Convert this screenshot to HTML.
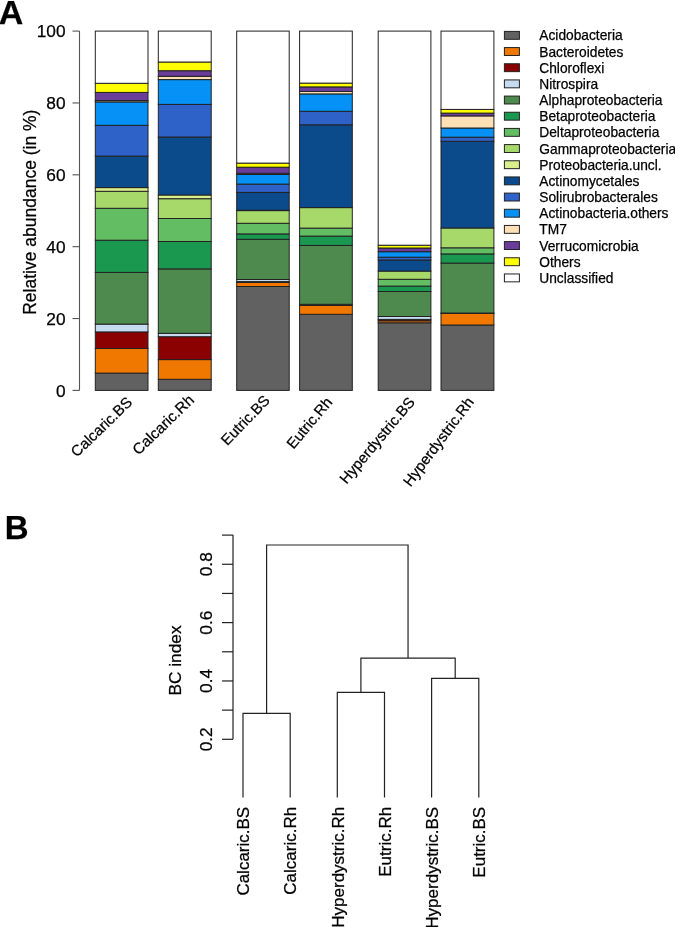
<!DOCTYPE html><html><head><meta charset="utf-8"><style>html,body{margin:0;padding:0;background:#fff;width:675px;height:927px;overflow:hidden}svg{display:block;will-change:transform}text{font-family:"Liberation Sans",sans-serif;stroke:#000;stroke-width:0.25px}</style></head><body>
<svg width="675" height="927" viewBox="0 0 675 927">
<text x="-1.2" y="23.8" font-size="34" font-weight="bold">A</text>
<text x="4.8" y="538.6" font-size="33" font-weight="bold">B</text>
<rect x="95.30" y="373.10" width="52.70" height="17.30" fill="#616161" stroke="#222" stroke-width="1.0"/>
<rect x="95.30" y="348.50" width="52.70" height="24.60" fill="#f07800" stroke="#222" stroke-width="1.0"/>
<rect x="95.30" y="331.90" width="52.70" height="16.60" fill="#8b0000" stroke="#222" stroke-width="1.0"/>
<rect x="95.30" y="324.10" width="52.70" height="7.80" fill="#c6dbef" stroke="#222" stroke-width="1.0"/>
<rect x="95.30" y="272.40" width="52.70" height="51.70" fill="#4e8a4e" stroke="#222" stroke-width="1.0"/>
<rect x="95.30" y="240.20" width="52.70" height="32.20" fill="#1a9850" stroke="#222" stroke-width="1.0"/>
<rect x="95.30" y="208.30" width="52.70" height="31.90" fill="#63be63" stroke="#222" stroke-width="1.0"/>
<rect x="95.30" y="191.30" width="52.70" height="17.00" fill="#a6d96a" stroke="#222" stroke-width="1.0"/>
<rect x="95.30" y="187.60" width="52.70" height="3.70" fill="#d9ef8b" stroke="#222" stroke-width="1.0"/>
<rect x="95.30" y="156.10" width="52.70" height="31.50" fill="#0b4a8b" stroke="#222" stroke-width="1.0"/>
<rect x="95.30" y="125.30" width="52.70" height="30.80" fill="#2f62c9" stroke="#222" stroke-width="1.0"/>
<rect x="95.30" y="101.90" width="52.70" height="23.40" fill="#0591f6" stroke="#222" stroke-width="1.0"/>
<rect x="95.30" y="100.60" width="52.70" height="1.30" fill="#fde0b5" stroke="#222" stroke-width="1.0"/>
<rect x="95.30" y="92.40" width="52.70" height="8.20" fill="#6a3d9a" stroke="#222" stroke-width="1.0"/>
<rect x="95.30" y="83.30" width="52.70" height="9.10" fill="#ffff00" stroke="#222" stroke-width="1.0"/>
<rect x="95.30" y="31.10" width="52.70" height="52.20" fill="#ffffff" stroke="#222" stroke-width="1.0"/>
<rect x="158.30" y="379.30" width="52.90" height="11.10" fill="#616161" stroke="#222" stroke-width="1.0"/>
<rect x="158.30" y="359.60" width="52.90" height="19.70" fill="#f07800" stroke="#222" stroke-width="1.0"/>
<rect x="158.30" y="336.70" width="52.90" height="22.90" fill="#8b0000" stroke="#222" stroke-width="1.0"/>
<rect x="158.30" y="333.30" width="52.90" height="3.40" fill="#c6dbef" stroke="#222" stroke-width="1.0"/>
<rect x="158.30" y="268.90" width="52.90" height="64.40" fill="#4e8a4e" stroke="#222" stroke-width="1.0"/>
<rect x="158.30" y="241.50" width="52.90" height="27.40" fill="#1a9850" stroke="#222" stroke-width="1.0"/>
<rect x="158.30" y="218.50" width="52.90" height="23.00" fill="#63be63" stroke="#222" stroke-width="1.0"/>
<rect x="158.30" y="198.70" width="52.90" height="19.80" fill="#a6d96a" stroke="#222" stroke-width="1.0"/>
<rect x="158.30" y="195.00" width="52.90" height="3.70" fill="#d9ef8b" stroke="#222" stroke-width="1.0"/>
<rect x="158.30" y="137.00" width="52.90" height="58.00" fill="#0b4a8b" stroke="#222" stroke-width="1.0"/>
<rect x="158.30" y="104.40" width="52.90" height="32.60" fill="#2f62c9" stroke="#222" stroke-width="1.0"/>
<rect x="158.30" y="79.60" width="52.90" height="24.80" fill="#0591f6" stroke="#222" stroke-width="1.0"/>
<rect x="158.30" y="76.30" width="52.90" height="3.30" fill="#fde0b5" stroke="#222" stroke-width="1.0"/>
<rect x="158.30" y="70.70" width="52.90" height="5.60" fill="#6a3d9a" stroke="#222" stroke-width="1.0"/>
<rect x="158.30" y="62.00" width="52.90" height="8.70" fill="#ffff00" stroke="#222" stroke-width="1.0"/>
<rect x="158.30" y="31.10" width="52.90" height="30.90" fill="#ffffff" stroke="#222" stroke-width="1.0"/>
<rect x="236.70" y="286.50" width="52.50" height="103.90" fill="#616161" stroke="#222" stroke-width="1.0"/>
<rect x="236.70" y="282.40" width="52.50" height="4.10" fill="#f07800" stroke="#222" stroke-width="1.0"/>
<rect x="236.70" y="281.60" width="52.50" height="0.80" fill="#8b0000" stroke="#222" stroke-width="1.0"/>
<rect x="236.70" y="279.50" width="52.50" height="2.10" fill="#c6dbef" stroke="#222" stroke-width="1.0"/>
<rect x="236.70" y="239.30" width="52.50" height="40.20" fill="#4e8a4e" stroke="#222" stroke-width="1.0"/>
<rect x="236.70" y="233.90" width="52.50" height="5.40" fill="#1a9850" stroke="#222" stroke-width="1.0"/>
<rect x="236.70" y="223.30" width="52.50" height="10.60" fill="#63be63" stroke="#222" stroke-width="1.0"/>
<rect x="236.70" y="210.60" width="52.50" height="12.70" fill="#a6d96a" stroke="#222" stroke-width="1.0"/>
<rect x="236.70" y="210.20" width="52.50" height="0.40" fill="#d9ef8b" stroke="#222" stroke-width="1.0"/>
<rect x="236.70" y="192.40" width="52.50" height="17.80" fill="#0b4a8b" stroke="#222" stroke-width="1.0"/>
<rect x="236.70" y="184.10" width="52.50" height="8.30" fill="#2f62c9" stroke="#222" stroke-width="1.0"/>
<rect x="236.70" y="174.50" width="52.50" height="9.60" fill="#0591f6" stroke="#222" stroke-width="1.0"/>
<rect x="236.70" y="173.30" width="52.50" height="1.20" fill="#fde0b5" stroke="#222" stroke-width="1.0"/>
<rect x="236.70" y="167.20" width="52.50" height="6.10" fill="#6a3d9a" stroke="#222" stroke-width="1.0"/>
<rect x="236.70" y="163.10" width="52.50" height="4.10" fill="#ffff00" stroke="#222" stroke-width="1.0"/>
<rect x="236.70" y="31.10" width="52.50" height="132.00" fill="#ffffff" stroke="#222" stroke-width="1.0"/>
<rect x="299.60" y="314.30" width="52.70" height="76.10" fill="#616161" stroke="#222" stroke-width="1.0"/>
<rect x="299.60" y="305.50" width="52.70" height="8.80" fill="#f07800" stroke="#222" stroke-width="1.0"/>
<rect x="299.60" y="304.30" width="52.70" height="1.20" fill="#8b0000" stroke="#222" stroke-width="1.0"/>
<rect x="299.60" y="245.40" width="52.70" height="58.90" fill="#4e8a4e" stroke="#222" stroke-width="1.0"/>
<rect x="299.60" y="236.10" width="52.70" height="9.30" fill="#1a9850" stroke="#222" stroke-width="1.0"/>
<rect x="299.60" y="228.10" width="52.70" height="8.00" fill="#63be63" stroke="#222" stroke-width="1.0"/>
<rect x="299.60" y="207.60" width="52.70" height="20.50" fill="#a6d96a" stroke="#222" stroke-width="1.0"/>
<rect x="299.60" y="124.80" width="52.70" height="82.80" fill="#0b4a8b" stroke="#222" stroke-width="1.0"/>
<rect x="299.60" y="111.30" width="52.70" height="13.50" fill="#2f62c9" stroke="#222" stroke-width="1.0"/>
<rect x="299.60" y="93.90" width="52.70" height="17.40" fill="#0591f6" stroke="#222" stroke-width="1.0"/>
<rect x="299.60" y="91.50" width="52.70" height="2.40" fill="#fde0b5" stroke="#222" stroke-width="1.0"/>
<rect x="299.60" y="86.90" width="52.70" height="4.60" fill="#6a3d9a" stroke="#222" stroke-width="1.0"/>
<rect x="299.60" y="83.10" width="52.70" height="3.80" fill="#ffff00" stroke="#222" stroke-width="1.0"/>
<rect x="299.60" y="31.10" width="52.70" height="52.00" fill="#ffffff" stroke="#222" stroke-width="1.0"/>
<rect x="378.20" y="322.80" width="52.70" height="67.60" fill="#616161" stroke="#222" stroke-width="1.0"/>
<rect x="378.20" y="320.80" width="52.70" height="2.00" fill="#f07800" stroke="#222" stroke-width="1.0"/>
<rect x="378.20" y="319.40" width="52.70" height="1.40" fill="#8b0000" stroke="#222" stroke-width="1.0"/>
<rect x="378.20" y="316.50" width="52.70" height="2.90" fill="#c6dbef" stroke="#222" stroke-width="1.0"/>
<rect x="378.20" y="291.50" width="52.70" height="25.00" fill="#4e8a4e" stroke="#222" stroke-width="1.0"/>
<rect x="378.20" y="286.10" width="52.70" height="5.40" fill="#1a9850" stroke="#222" stroke-width="1.0"/>
<rect x="378.20" y="279.30" width="52.70" height="6.80" fill="#63be63" stroke="#222" stroke-width="1.0"/>
<rect x="378.20" y="271.10" width="52.70" height="8.20" fill="#a6d96a" stroke="#222" stroke-width="1.0"/>
<rect x="378.20" y="260.00" width="52.70" height="11.10" fill="#0b4a8b" stroke="#222" stroke-width="1.0"/>
<rect x="378.20" y="257.20" width="52.70" height="2.80" fill="#2f62c9" stroke="#222" stroke-width="1.0"/>
<rect x="378.20" y="251.70" width="52.70" height="5.50" fill="#0591f6" stroke="#222" stroke-width="1.0"/>
<rect x="378.20" y="248.00" width="52.70" height="3.70" fill="#6a3d9a" stroke="#222" stroke-width="1.0"/>
<rect x="378.20" y="245.20" width="52.70" height="2.80" fill="#ffff00" stroke="#222" stroke-width="1.0"/>
<rect x="378.20" y="31.10" width="52.70" height="214.10" fill="#ffffff" stroke="#222" stroke-width="1.0"/>
<rect x="441.00" y="325.00" width="52.90" height="65.40" fill="#616161" stroke="#222" stroke-width="1.0"/>
<rect x="441.00" y="313.50" width="52.90" height="11.50" fill="#f07800" stroke="#222" stroke-width="1.0"/>
<rect x="441.00" y="313.00" width="52.90" height="0.50" fill="#8b0000" stroke="#222" stroke-width="1.0"/>
<rect x="441.00" y="263.10" width="52.90" height="49.90" fill="#4e8a4e" stroke="#222" stroke-width="1.0"/>
<rect x="441.00" y="253.90" width="52.90" height="9.20" fill="#1a9850" stroke="#222" stroke-width="1.0"/>
<rect x="441.00" y="247.80" width="52.90" height="6.10" fill="#63be63" stroke="#222" stroke-width="1.0"/>
<rect x="441.00" y="228.00" width="52.90" height="19.80" fill="#a6d96a" stroke="#222" stroke-width="1.0"/>
<rect x="441.00" y="141.30" width="52.90" height="86.70" fill="#0b4a8b" stroke="#222" stroke-width="1.0"/>
<rect x="441.00" y="137.20" width="52.90" height="4.10" fill="#2f62c9" stroke="#222" stroke-width="1.0"/>
<rect x="441.00" y="128.00" width="52.90" height="9.20" fill="#0591f6" stroke="#222" stroke-width="1.0"/>
<rect x="441.00" y="115.90" width="52.90" height="12.10" fill="#fde0b5" stroke="#222" stroke-width="1.0"/>
<rect x="441.00" y="113.10" width="52.90" height="2.80" fill="#6a3d9a" stroke="#222" stroke-width="1.0"/>
<rect x="441.00" y="109.40" width="52.90" height="3.70" fill="#ffff00" stroke="#222" stroke-width="1.0"/>
<rect x="441.00" y="31.10" width="52.90" height="78.30" fill="#ffffff" stroke="#222" stroke-width="1.0"/>
<g stroke="#555" stroke-width="1.1" fill="none"><path d="M79.5 31.1 V390.4"/>
<path d="M72.5 390.40 H79.5"/>
<path d="M72.5 318.54 H79.5"/>
<path d="M72.5 246.68 H79.5"/>
<path d="M72.5 174.82 H79.5"/>
<path d="M72.5 102.96 H79.5"/>
<path d="M72.5 31.10 H79.5"/>
</g>
<text x="65.5" y="396.60" font-size="17.3" text-anchor="end">0</text>
<text x="65.5" y="324.74" font-size="17.3" text-anchor="end">20</text>
<text x="65.5" y="252.88" font-size="17.3" text-anchor="end">40</text>
<text x="65.5" y="181.02" font-size="17.3" text-anchor="end">60</text>
<text x="65.5" y="109.16" font-size="17.3" text-anchor="end">80</text>
<text x="65.5" y="37.30" font-size="17.3" text-anchor="end">100</text>
<text transform="translate(35.8,212.2) rotate(-90)" font-size="17.5" text-anchor="middle">Relative abundance (in %)</text>
<text transform="translate(133.2,403.4) rotate(-44)" font-size="15.0" text-anchor="end">Calcaric.BS</text>
<text transform="translate(195.0,401.2) rotate(-44)" font-size="15.2" text-anchor="end">Calcaric.Rh</text>
<text transform="translate(270.8,401.3) rotate(-46)" font-size="15.0" text-anchor="end">Eutric.BS</text>
<text transform="translate(333.2,402.6) rotate(-50)" font-size="15.0" text-anchor="end">Eutric.Rh</text>
<text transform="translate(415.6,402.5) rotate(-50)" font-size="15.0" text-anchor="end">Hyperdystric.BS</text>
<text transform="translate(474.6,402.2) rotate(-53)" font-size="15.0" text-anchor="end">Hyperdystric.Rh</text>
<rect x="504.4" y="31.40" width="15" height="7.9" fill="#616161" stroke="#222" stroke-width="1"/>
<text x="539.3" y="40.40" font-size="13.75">Acidobacteria</text>
<rect x="504.4" y="47.57" width="15" height="7.9" fill="#f07800" stroke="#222" stroke-width="1"/>
<text x="539.3" y="56.57" font-size="13.75">Bacteroidetes</text>
<rect x="504.4" y="63.74" width="15" height="7.9" fill="#8b0000" stroke="#222" stroke-width="1"/>
<text x="539.3" y="72.74" font-size="13.75">Chloroflexi</text>
<rect x="504.4" y="79.91" width="15" height="7.9" fill="#c6dbef" stroke="#222" stroke-width="1"/>
<text x="539.3" y="88.91" font-size="13.75">Nitrospira</text>
<rect x="504.4" y="96.08" width="15" height="7.9" fill="#4e8a4e" stroke="#222" stroke-width="1"/>
<text x="539.3" y="105.08" font-size="13.75">Alphaproteobacteria</text>
<rect x="504.4" y="112.25" width="15" height="7.9" fill="#1a9850" stroke="#222" stroke-width="1"/>
<text x="539.3" y="121.25" font-size="13.75">Betaproteobacteria</text>
<rect x="504.4" y="128.42" width="15" height="7.9" fill="#63be63" stroke="#222" stroke-width="1"/>
<text x="539.3" y="137.42" font-size="13.75">Deltaproteobacteria</text>
<rect x="504.4" y="144.59" width="15" height="7.9" fill="#a6d96a" stroke="#222" stroke-width="1"/>
<text x="539.3" y="153.59" font-size="13.75">Gammaproteobacteria</text>
<rect x="504.4" y="160.76" width="15" height="7.9" fill="#d9ef8b" stroke="#222" stroke-width="1"/>
<text x="539.3" y="169.76" font-size="13.75">Proteobacteria.uncl.</text>
<rect x="504.4" y="176.93" width="15" height="7.9" fill="#0b4a8b" stroke="#222" stroke-width="1"/>
<text x="539.3" y="185.93" font-size="13.75">Actinomycetales</text>
<rect x="504.4" y="193.10" width="15" height="7.9" fill="#2f62c9" stroke="#222" stroke-width="1"/>
<text x="539.3" y="202.10" font-size="13.75">Solirubrobacterales</text>
<rect x="504.4" y="209.27" width="15" height="7.9" fill="#0591f6" stroke="#222" stroke-width="1"/>
<text x="539.3" y="218.27" font-size="13.75">Actinobacteria.others</text>
<rect x="504.4" y="225.44" width="15" height="7.9" fill="#fde0b5" stroke="#222" stroke-width="1"/>
<text x="539.3" y="234.44" font-size="13.75">TM7</text>
<rect x="504.4" y="241.61" width="15" height="7.9" fill="#6a3d9a" stroke="#222" stroke-width="1"/>
<text x="539.3" y="250.61" font-size="13.75">Verrucomicrobia</text>
<rect x="504.4" y="257.78" width="15" height="7.9" fill="#ffff00" stroke="#222" stroke-width="1"/>
<text x="539.3" y="266.78" font-size="13.75">Others</text>
<rect x="504.4" y="273.95" width="15" height="7.9" fill="#ffffff" stroke="#222" stroke-width="1"/>
<text x="539.3" y="282.95" font-size="13.75">Unclassified</text>
<g stroke="#222" stroke-width="1.2" fill="none">
<path d="M233 535.1 V739.3"/>
<path d="M222 535.10 H233"/>
<path d="M222 564.27 H233"/>
<path d="M222 593.44 H233"/>
<path d="M222 622.61 H233"/>
<path d="M222 651.79 H233"/>
<path d="M222 680.96 H233"/>
<path d="M222 710.13 H233"/>
<path d="M222 739.30 H233"/>
<path d="M243.0 797.5 V713.3 H290.2 V797.5"/>
<path d="M337.3 797.5 V692.4 H384.5 V797.5"/>
<path d="M431.6 797.5 V678.3 H478.8 V797.5"/>
<path d="M360.9 692.4 V658.1 H455.20000000000005 V678.3"/>
<path d="M266.6 713.3 V545.0 H408.05 V658.1"/>
</g>
<text transform="translate(211.5,739.30) rotate(-90)" font-size="17.3" text-anchor="middle">0.2</text>
<text transform="translate(211.5,680.96) rotate(-90)" font-size="17.3" text-anchor="middle">0.4</text>
<text transform="translate(211.5,622.61) rotate(-90)" font-size="17.3" text-anchor="middle">0.6</text>
<text transform="translate(211.5,564.27) rotate(-90)" font-size="17.3" text-anchor="middle">0.8</text>
<text transform="translate(181,660.5) rotate(-90)" font-size="17.3" text-anchor="middle">BC index</text>
<text transform="translate(249.2,806.8) rotate(-90)" font-size="17" text-anchor="end">Calcaric.BS</text>
<text transform="translate(296.4,806.8) rotate(-90)" font-size="17" text-anchor="end">Calcaric.Rh</text>
<text transform="translate(343.5,806.8) rotate(-90)" font-size="17" text-anchor="end">Hyperdystric.Rh</text>
<text transform="translate(390.7,806.8) rotate(-90)" font-size="17" text-anchor="end">Eutric.Rh</text>
<text transform="translate(437.8,806.8) rotate(-90)" font-size="17" text-anchor="end">Hyperdystric.BS</text>
<text transform="translate(485.0,806.8) rotate(-90)" font-size="17" text-anchor="end">Eutric.BS</text>
</svg></body></html>
